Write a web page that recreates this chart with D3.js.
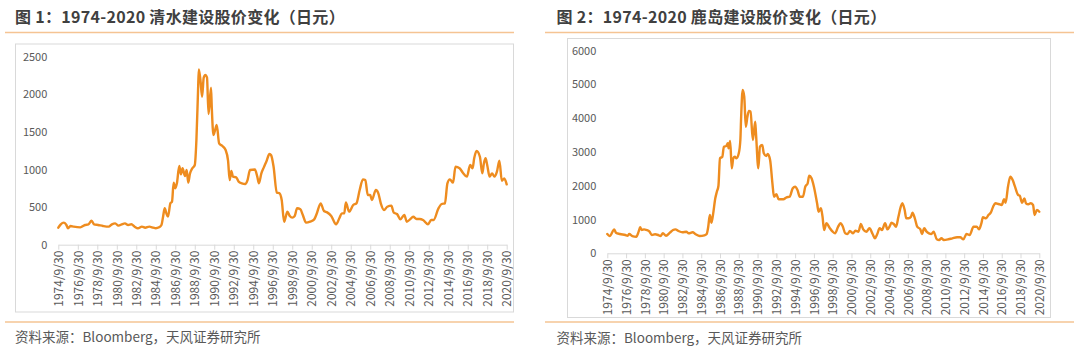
<!DOCTYPE html>
<html><head><meta charset="utf-8">
<script src="https://cdn.jsdelivr.net/npm/d3@7/dist/d3.min.js"></script>
<style>
html,body{margin:0;padding:0;background:#fff;}
svg{display:block;}
text{font-family:"Noto Sans CJK SC","Noto Sans",sans-serif;}
</style></head>
<body><svg id="c" width="1080" height="356"></svg>
<script>
// ---------- DATA ----------
const titles = ["图 1：1974-2020 清水建设股价变化（日元）", "图 2：1974-2020 鹿岛建设股价变化（日元）"];
const sourceText = "资料来源：Bloomberg，天风证券研究所";
const tickYears = [1974,1976,1978,1980,1982,1984,1986,1988,1990,1992,1994,1996,1998,2000,2002,2004,2006,2008,2010,2012,2014,2016,2018,2020];
const tickLabels = tickYears.map(y => y + "/9/30");
const shimizuYTicks = [0,500,1000,1500,2000,2500];
const kajimaYTicks = [0,1000,2000,3000,4000,5000,6000];

const shimizuDates = ["1974-10","1975-01","1975-05","1975-08","1975-10","1976-01","1976-05","1977-01","1977-07","1977-11","1978-03","1978-06","1978-11","1979-05","1979-12","1980-04","1980-08","1980-12","1981-05","1981-08","1981-12","1982-04","1982-08","1982-12","1983-05","1983-09","1984-02","1984-07","1984-10","1985-02","1985-05","1985-07","1985-09","1985-11","1986-01","1986-04","1986-06","1986-08","1986-10","1986-12","1987-03","1987-05","1987-07","1987-10","1987-12","1988-02","1988-04","1988-07","1988-10","1988-12","1989-02","1989-03","1989-05","1989-07","1989-09","1989-11","1990-01","1990-03","1990-06","1990-07","1990-09","1990-11","1991-01","1991-04","1991-08","1991-12","1992-03","1992-05","1992-07","1992-09","1993-01","1993-04","1993-08","1993-12","1994-03","1994-06","1994-12","1995-03","1995-05","1995-08","1995-11","1996-02","1996-06","1996-08","1996-11","1997-03","1997-06","1997-09","1997-12","1998-02","1998-04","1998-07","1998-10","1999-01","1999-04","1999-08","1999-11","2000-03","2000-08","2001-01","2001-04","2001-09","2002-01","2002-05","2002-10","2003-04","2003-08","2003-11","2004-02","2004-04","2004-08","2005-01","2005-05","2005-09","2006-01","2006-04","2006-07","2006-10","2006-12","2007-05","2007-08","2007-11","2008-03","2008-07","2008-12","2009-03","2009-07","2009-11","2010-04","2010-07","2010-11","2011-03","2011-07","2011-11","2012-03","2012-09","2013-01","2013-04","2013-10","2014-02","2014-06","2014-09","2014-12","2015-04","2015-07","2015-12","2016-04","2016-09","2017-01","2017-04","2017-06","2017-09","2018-01","2018-04","2018-06","2018-08","2018-10","2019-01","2019-04","2019-07","2019-10","2020-01","2020-04","2020-07","2020-10"];
const shimizuValues = [226,271,293,262,218,249,240,231,262,271,319,271,262,249,240,271,284,253,275,284,262,271,240,218,240,226,240,226,218,231,262,373,484,417,373,550,572,825,750,816,1047,936,1016,914,993,825,940,1016,1060,1392,2057,2332,2190,1968,2221,2257,2226,1738,2088,1814,1459,1525,1592,1348,1312,1259,1117,860,980,905,896,838,816,807,860,993,1000,905,816,948,1028,1104,1206,1190,1037,692,686,594,306,373,440,382,360,382,484,470,395,293,306,337,408,550,448,430,382,271,351,417,417,563,440,528,550,727,869,860,661,661,594,727,683,550,461,505,519,426,408,337,395,306,337,372,342,342,328,271,328,328,484,541,550,816,869,825,1037,1016,958,905,1060,1016,1149,1246,1170,948,1082,1149,1060,905,948,905,971,1117,851,880,803];

const kajimaDates = ["1974-10","1975-01","1975-07","1975-09","1976-02","1976-09","1976-12","1977-02","1977-06","1977-11","1978-02","1978-04","1978-06","1978-09","1978-12","1979-04","1979-07","1979-11","1980-03","1980-06","1980-09","1981-01","1981-06","1981-10","1982-01","1982-05","1982-10","1983-03","1983-06","1983-11","1984-03","1984-08","1985-02","1985-05","1985-07","1985-09","1985-11","1986-01","1986-04","1986-06","1986-08","1986-10","1987-01","1987-03","1987-06","1987-08","1987-09","1987-11","1988-01","1988-03","1988-05","1988-07","1988-10","1988-12","1989-01","1989-03","1989-05","1989-07","1989-09","1989-11","1990-01","1990-04","1990-07","1990-08","1990-11","1991-01","1991-04","1991-06","1991-09","1991-11","1992-02","1992-05","1992-07","1992-10","1993-01","1993-07","1993-11","1994-03","1994-07","1994-10","1995-01","1995-04","1995-08","1995-11","1996-02","1996-04","1996-07","1996-10","1997-02","1997-04","1997-07","1997-09","1997-11","1998-02","1998-06","1998-10","1999-01","1999-05","1999-08","1999-11","2000-02","2000-05","2000-08","2000-12","2001-03","2001-07","2001-10","2002-01","2002-05","2002-09","2003-01","2003-04","2003-07","2003-10","2004-01","2004-05","2004-08","2004-11","2005-01","2005-04","2005-07","2005-10","2006-01","2006-03","2006-06","2006-08","2006-11","2007-02","2007-04","2007-07","2007-10","2008-02","2008-04","2008-07","2008-10","2009-01","2009-04","2009-07","2009-11","2010-02","2010-05","2010-08","2011-02","2011-07","2012-01","2012-05","2012-09","2013-01","2013-05","2013-10","2014-02","2014-05","2014-08","2014-10","2015-02","2015-05","2015-08","2015-11","2016-02","2016-06","2016-10","2017-01","2017-03","2017-06","2017-09","2017-12","2018-03","2018-07","2018-09","2018-12","2019-03","2019-05","2019-08","2019-11","2020-02","2020-04","2020-07","2020-10"];
const kajimaValues = [572,512,710,611,572,542,521,572,512,492,640,770,690,710,690,640,542,563,542,512,592,521,611,690,710,660,622,640,592,622,563,512,533,572,788,1134,906,1134,1628,1824,1993,2813,2861,3157,3177,3257,3109,3325,2517,2813,2861,2813,2961,3355,4045,4836,4638,3749,4045,4214,4193,3355,3897,3553,2517,3157,3207,2961,2881,2940,2763,2073,1676,1747,1599,1599,1658,1676,1925,1972,1874,1676,1676,1972,2073,2298,2221,1972,1481,1232,1333,1084,690,888,758,640,592,788,888,788,592,572,660,592,669,640,868,710,640,740,572,444,572,740,690,888,710,808,906,868,788,1084,1380,1481,1282,1036,1036,1084,1202,1036,788,710,572,740,640,592,572,640,415,394,444,394,415,444,474,474,415,572,542,788,788,710,888,1066,1036,1134,1202,1380,1481,1460,1430,1599,1498,1972,2268,2171,1972,1726,1706,1498,1628,1481,1451,1481,1430,1134,1282,1232];

// ---------- DRAW ----------
const svg = d3.select("#c");
const parseYM = d3.timeParse("%Y-%m");
const ORANGE = "#EE8C1F", PEACH = "#F5C493", GRID = "#D9D9D9", TXT = "#595959";

function panel(o) {
  const g = svg.append("g");
  // title
  g.append("text").attr("x", o.titleX).attr("y", 23).attr("font-size", 16).attr("font-weight", "bold")
    .attr("fill", "#404040").attr("letter-spacing", 0.3).text(o.title);
  g.append("line").attr("x1", o.lineX0).attr("x2", o.lineX1).attr("y1", 32.5).attr("y2", 32.5)
    .attr("stroke", PEACH).attr("stroke-width", 1.5);
  g.append("line").attr("x1", o.lineX0).attr("x2", o.lineX1).attr("y1", 322).attr("y2", 322)
    .attr("stroke", PEACH).attr("stroke-width", 1.5);
  g.append("text").attr("x", o.titleX).attr("y", o.footY).attr("font-size", 13.5)
    .attr("fill", TXT).text(sourceText);
  // chart frame
  g.append("rect").attr("x", o.box[0] + 0.5).attr("y", o.box[1] + 0.5)
    .attr("width", o.box[2] - o.box[0]).attr("height", o.box[3] - o.box[1])
    .attr("fill", "none").attr("stroke", GRID).attr("stroke-width", 1);

  const x = d3.scaleTime().domain([new Date(1974, 9, 1), new Date(2020, 9, 1)]).range(o.xr);
  const y = d3.scaleLinear().domain([0, o.yTicks[o.yTicks.length - 1]]).range(o.yr);

  // y labels (no axis line, no grid)
  const ya = d3.axisLeft(y).tickValues(o.yTicks).tickSize(0).tickPadding(11).tickFormat(d3.format("d"));
  const yg = g.append("g").attr("transform", `translate(${o.xr[0]},0)`).call(ya);
  yg.select(".domain").remove();
  yg.selectAll("text").attr("font-size", 11).attr("fill", TXT)
    .style("font-family", '"Noto Sans CJK SC","Noto Sans",sans-serif');

  // x axis
  const tickDates = tickYears.map(yr => new Date(yr, 9, 1));
  const xa = d3.axisBottom(x).tickValues(tickDates).tickSize(5).tickSizeOuter(0)
    .tickFormat((d, i) => tickLabels[i]);
  const xg = g.append("g").attr("transform", `translate(0,${o.yr[0]})`).call(xa);
  xg.select(".domain").attr("stroke", GRID);
  xg.selectAll(".tick line").attr("stroke", GRID);
  xg.selectAll("text").attr("font-size", 12).attr("fill", TXT)
    .style("font-family", '"Noto Sans CJK SC","Noto Sans",sans-serif')
    .attr("transform", "rotate(-90)").attr("text-anchor", "end")
    .attr("x", -6).attr("y", 0).attr("dy", "0.35em");

  const data = o.dates.map((d, i) => ({ d: parseYM(d), v: o.values[i] }));
  const line = d3.line().x(p => x(p.d)).y(p => y(p.v)).curve(d3.curveMonotoneX);
  g.append("path").datum(data).attr("d", line).attr("fill", "none")
    .attr("stroke", ORANGE).attr("stroke-width", 2.4).attr("stroke-linejoin", "round").attr("stroke-linecap", "round");
}

panel({ title: titles[0], titleX: 15, footY: 341.5, lineX0: 5, lineX1: 514,
  box: [15, 43.5, 513, 311.5], xr: [58.3, 506.7], yr: [244.7, 56.7],
  yTicks: shimizuYTicks, dates: shimizuDates, values: shimizuValues });
panel({ title: titles[1], titleX: 556.5, footY: 343, lineX0: 545, lineX1: 1074,
  box: [567, 38, 1050, 317], xr: [607.3, 1039.3], yr: [253.3, 50.7],
  yTicks: kajimaYTicks, dates: kajimaDates, values: kajimaValues });
</script></body></html>
